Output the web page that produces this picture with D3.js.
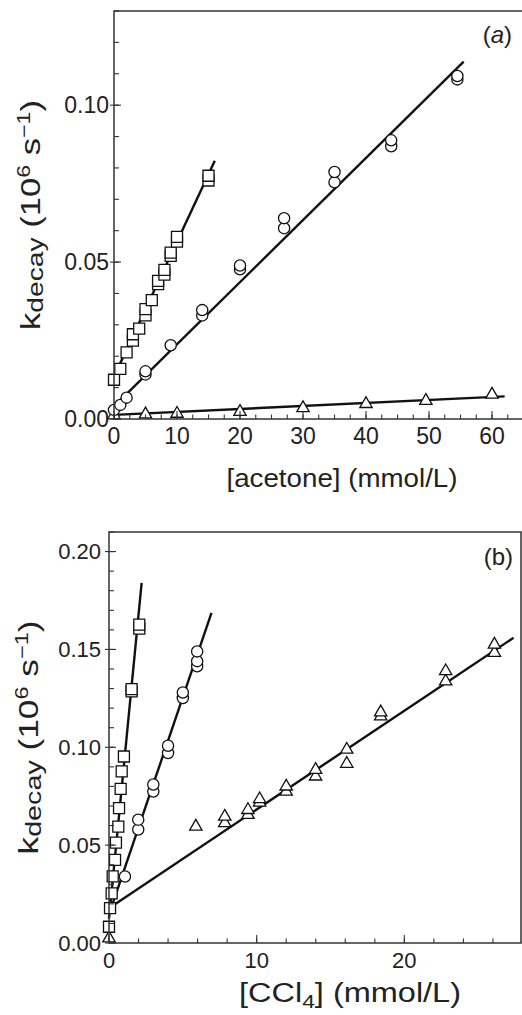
<!DOCTYPE html>
<html><head><meta charset="utf-8">
<script src="https://cdn.jsdelivr.net/npm/d3@7"></script>
<style>
html,body{margin:0;padding:0;background:#fff;}
svg{display:block;font-family:"Liberation Sans",Arial,sans-serif;}
</style></head>
<body>
<svg id="chart" width="522" height="1015"></svg>
<script>
// ---------- Panel (a): acetone ----------
const acetoneSqX = [0,1,2,3,3,4,5,5,6,7,7,8,8,9,9,10,10,15,15];
const acetoneSqK = [0.0125,0.016,0.0212,0.025,0.027,0.0288,0.033,0.035,0.0379,0.043,0.044,0.046,0.0475,0.052,0.053,0.0565,0.058,0.076,0.0775];
const acetoneCircX = [0,1,2,5,5,9,14,14,20,20,27,27,35,35,44,44,54.5,54.5];
const acetoneCircK = [0.0029,0.0045,0.0068,0.0142,0.0152,0.0235,0.033,0.0347,0.0477,0.0489,0.0608,0.064,0.0754,0.0787,0.0869,0.0888,0.1082,0.1093];
const acetoneTriX = [0,5,10,20,30,40,49.5,60];
const acetoneTriK = [0.0012,0.0015,0.0017,0.0023,0.0035,0.0048,0.0058,0.0078];
const acetoneSqFit = [[0,0.0135],[16,0.0823]];
const acetoneCircFit = [[0,0.004],[55.5,0.1139]];
const acetoneTriFit = [[0,0.0013],[62,0.0072]];
const acetoneXTicks = [0,10,20,30,40,50,60];
const acetoneYTicks = [0.00,0.05,0.10];

// ---------- Panel (b): CCl4 ----------
const cclSqX = [0,0.07,0.18,0.25,0.41,0.47,0.63,0.68,0.79,0.86,1.01,1.53,1.53,2.05,2.05];
const cclSqK = [0.0083,0.0178,0.0254,0.034,0.0425,0.0513,0.0595,0.0689,0.0787,0.0877,0.0953,0.1286,0.1297,0.1606,0.1627];
const cclCircX = [1.08,1.98,1.98,3.0,3.0,4.0,4.0,5.0,5.0,5.97,5.97,5.97];
const cclCircK = [0.034,0.058,0.063,0.0774,0.081,0.0971,0.1008,0.1252,0.128,0.1414,0.144,0.149];
const cclTriX = [0,5.88,7.84,7.84,9.41,9.41,10.2,10.2,12.0,12.0,13.99,13.99,16.1,16.1,18.4,18.4,22.8,22.8,26.1,26.1];
const cclTriK = [0.0024,0.0595,0.0613,0.0646,0.0655,0.068,0.0718,0.0735,0.0774,0.080,0.0851,0.0885,0.0916,0.0988,0.1158,0.1179,0.1337,0.1389,0.1483,0.1525];
const cclSqFit = [[0,0.0125],[2.21,0.184]];
const cclCircFit = [[0.18,0.0186],[6.94,0.1687]];
const cclTriFit = [[0.1,0.0183],[27.4,0.156]];
const cclXTicks = [0,10,20];
const cclYTicks = [0.00,0.05,0.10,0.15,0.20];

const svg = d3.select("#chart");

function panel(o){
  const g = svg.append("g");
  const x = d3.scaleLinear().domain(o.xDomain).range([o.left,o.right]);
  const y = d3.scaleLinear().domain(o.yDomain).range([o.bottom,o.top]);
  const zip = (a,b)=>a.map((v,i)=>[v,b[i]]);
  const line = d3.line().x(d=>x(d[0])).y(d=>y(d[1]));
  [o.sqFit,o.circFit,o.triFit].forEach(f=>{
    g.append("path").attr("d",line(f)).attr("fill","none")
     .attr("stroke","#111").attr("stroke-width",2.4);
  });
  const sq = d3.symbol().type(d3.symbolSquare).size(121);
  const ci = d3.symbol().type(d3.symbolCircle).size(Math.PI*5.6*5.6);
  const tr = d3.symbol().type(d3.symbolTriangle).size(66);
  const mk = (data,sym)=>g.append("g").selectAll("path").data(data).join("path")
     .attr("d",sym).attr("transform",d=>`translate(${x(d[0])},${y(d[1])})`)
     .attr("fill","#fff").attr("stroke","#111").attr("stroke-width",1.3);
  mk(zip(o.triX,o.triK),tr);
  mk(zip(o.circX,o.circK),ci);
  mk(zip(o.sqX,o.sqK),sq);

  g.append("path").attr("d",`M${o.left},${o.bottom}V${o.top}H${o.frameRight}V${o.bottom}Z`)
   .attr("fill","none").attr("stroke","#333").attr("stroke-width",1.5);

  const ya = g.append("g").attr("transform",`translate(${o.left},0)`);
  const yMinor = d3.range(0, o.yDomain[1]+1e-9, 0.01);
  ya.selectAll("line.minor").data(yMinor).join("line")
    .attr("x1",0).attr("x2",5).attr("y1",d=>y(d)).attr("y2",d=>y(d))
    .attr("stroke","#333").attr("stroke-width",1.1);
  ya.selectAll("line.major").data(o.yTicks).join("line")
    .attr("x1",-4).attr("x2",7).attr("y1",d=>y(d)).attr("y2",d=>y(d))
    .attr("stroke","#333").attr("stroke-width",1.1);
  ya.selectAll("text").data(o.yTicks).join("text")
    .attr("x",-o.yPad).attr("y",d=>y(d)).attr("dy","0.36em")
    .attr("text-anchor","end").attr("font-size",o.tickFont).attr("fill","#222")
    .text(d=>d3.format(".2f")(d));

  const xa = g.append("g").attr("transform",`translate(0,${o.bottom})`);
  const xMinor = d3.range(0, o.xDomain[1]+1e-9, o.xMinorStep);
  xa.selectAll("line.minor").data(xMinor).join("line")
    .attr("x1",d=>x(d)).attr("x2",d=>x(d)).attr("y1",0).attr("y2",-4.5)
    .attr("stroke","#333").attr("stroke-width",1.1);
  xa.selectAll("line.major").data(o.xTicks).join("line")
    .attr("x1",d=>x(d)).attr("x2",d=>x(d)).attr("y1",0).attr("y2",-8)
    .attr("stroke","#333").attr("stroke-width",1.1);
  xa.selectAll("text").data(o.xTicks).join("text")
    .attr("x",d=>x(d)).attr("y",o.xLabelOff)
    .attr("text-anchor","middle").attr("font-size",o.tickFont).attr("fill","#222")
    .text(d=>d);

  const yt = g.append("text").attr("transform",`translate(${o.yTitleX},${(o.top+o.bottom)/2}) rotate(-90)`)
    .attr("text-anchor","middle").attr("font-size",27).attr("fill","#222")
    .attr("textLength",o.yTitleLen).attr("lengthAdjust","spacingAndGlyphs");
  yt.append("tspan").text("k");
  yt.append("tspan").attr("font-size",22).attr("dy",3).text("decay");
  yt.append("tspan").attr("dy",-3).text(" (10");
  yt.append("tspan").attr("font-size",18).attr("dy",-10).text("6");
  yt.append("tspan").attr("dy",10).text(" s");
  yt.append("tspan").attr("font-size",18).attr("dy",-10).text("\u22121");
  yt.append("tspan").attr("dy",10).text(")");

  const xt = g.append("text").attr("x",o.xTitleX).attr("y",o.xTitleY)
    .attr("text-anchor","middle").attr("font-size",o.xTitleFont).attr("fill","#222")
    .attr("textLength",o.xTitleLen).attr("lengthAdjust","spacingAndGlyphs");
  o.xTitle(xt);

  const tag = g.append("text").attr("x",o.tagX).attr("y",o.tagY).attr("text-anchor","end")
    .attr("font-size",24).attr("fill","#222");
  o.tag(tag);
}

panel({
  left:114, right:521, frameRight:523, top:11, bottom:419,
  xDomain:[0,64.6], yDomain:[0,0.13], xMinorStep:2.5,
  xTicks:acetoneXTicks, yTicks:acetoneYTicks,
  sqX:acetoneSqX, sqK:acetoneSqK, circX:acetoneCircX, circK:acetoneCircK, triX:acetoneTriX, triK:acetoneTriK,
  sqFit:acetoneSqFit, circFit:acetoneCircFit, triFit:acetoneTriFit,
  tickFont:23, yPad:5, xLabelOff:25, yTitleX:40, yTitleLen:230,
  xTitleX:342, xTitleY:487, xTitleFont:26, xTitleLen:231,
  xTitle:t=>t.text("[acetone] (mmol/L)"),
  tagX:512, tagY:43,
  tag:t=>{t.append("tspan").text("(");t.append("tspan").attr("font-style","italic").text("a");t.append("tspan").text(")");}
});

panel({
  left:109, right:521, frameRight:521, top:532, bottom:943,
  xDomain:[0,27.9], yDomain:[0,0.21], xMinorStep:2,
  xTicks:cclXTicks, yTicks:cclYTicks,
  sqX:cclSqX, sqK:cclSqK, circX:cclCircX, circK:cclCircK, triX:cclTriX, triK:cclTriK,
  sqFit:cclSqFit, circFit:cclCircFit, triFit:cclTriFit,
  tickFont:22, yPad:8, xLabelOff:25, yTitleX:38, yTitleLen:234,
  xTitleX:350, xTitleY:1002, xTitleFont:27, xTitleLen:222,
  xTitle:t=>{t.append("tspan").text("[CCl");t.append("tspan").attr("font-size",19).attr("dy",6).text("4");t.append("tspan").attr("dy",-6).text("] (mmol/L)");},
  tagX:513, tagY:565,
  tag:t=>t.text("(b)")
});
</script>
</body></html>
